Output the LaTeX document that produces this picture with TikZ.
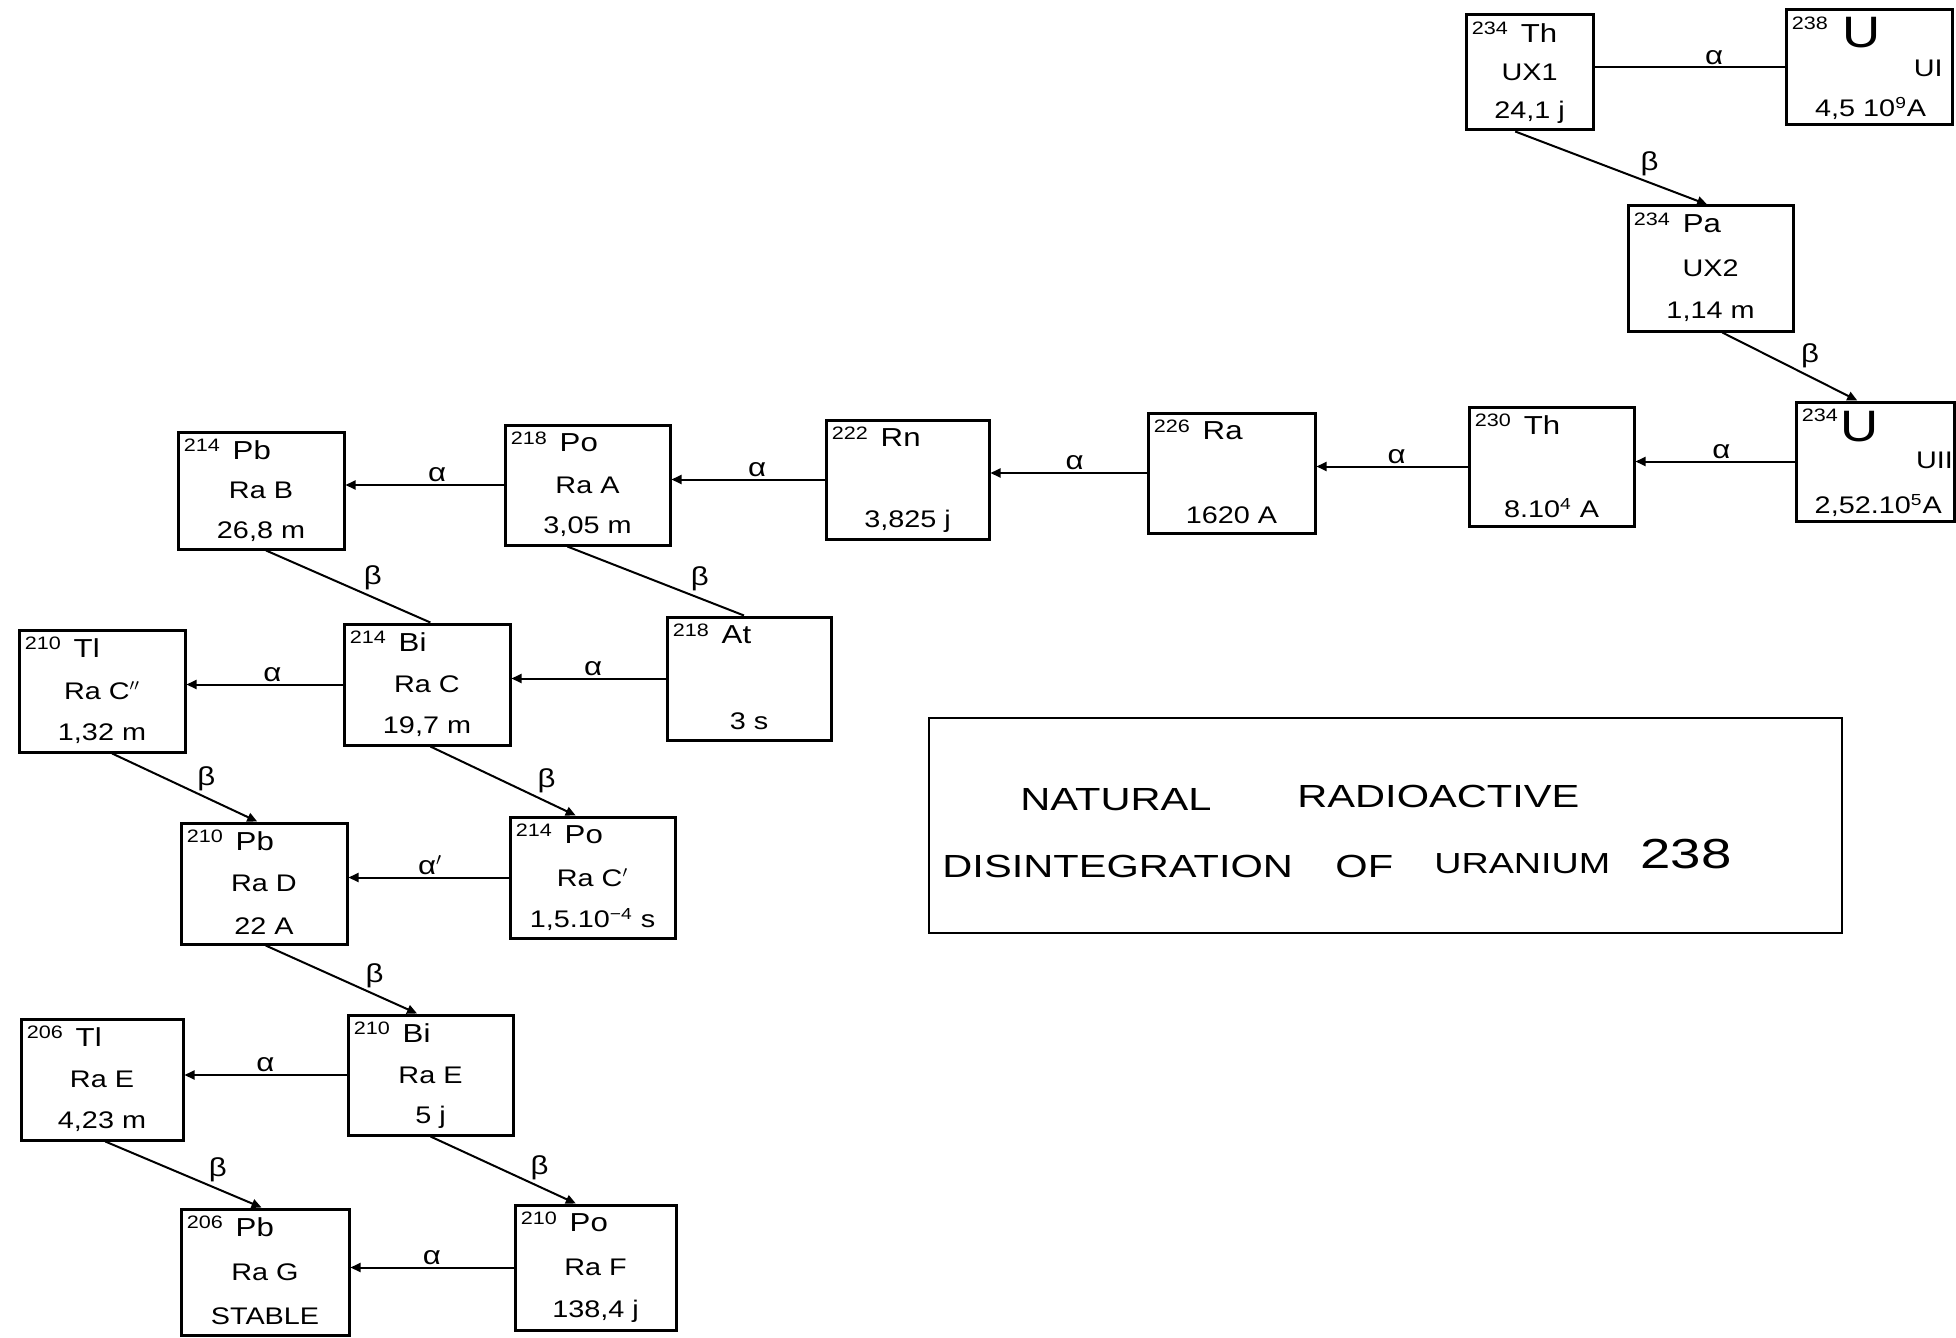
\documentclass[tikz,border=0pt]{standalone}
\usepackage{fontspec}
\setmainfont{Liberation Sans}[FakeStretch=1.2]
\newfontfamily\titlefont{Liberation Sans}[FakeStretch=1.3]
\usetikzlibrary{arrows.meta,calc,fit}
\tikzset{
  box/.style={draw, line width=1.5pt, inner sep=0pt},
  massn/.style={font=\fontsize{9}{10}\selectfont, inner sep=0pt},
  symb/.style={font=\fontsize{13}{14}\selectfont, inner sep=0pt},
  bigsymb/.style={font=\fontsize{22}{24}\selectfont, inner sep=0pt},
  nlab/.style={font=\fontsize{12}{13}\selectfont, inner sep=0pt},
  hlife/.style={font=\fontsize{12}{13}\selectfont, inner sep=0pt},
  tip/.style={-{Triangle[length=5pt,width=4.5pt]}},
  alink/.style={line width=1pt, tip},
  plainlink/.style={line width=1pt},
  blink/.style={line width=1pt},
  blinka/.style={blink, tip},
  dlab/.style={font=\fontsize{13}{14}\selectfont, inner sep=1pt},
  ttl/.style={font=\titlefont\fontsize{16}{18}\selectfont, inner sep=0pt, anchor=west},
}
\newcommand{\nucbox}[9]{%
  \node[box, fit={(#2,#3) (#4,#5)}] (#1) {};
  \node[massn, anchor=north west] (#1-m) at ($(#1.north west)+(7,8)$) {#6};
  \node[symb, anchor=north west] (#1-s) at ($(#1-m.north east)+(12,2)$) {#7};
  \node[nlab] (#1-n) at ($(#1.north)!0.5!(#1.south)$) {#8};
  \node[hlife] (#1-h) at ($(#1.north)!0.84!(#1.south)$) {#9};
}
\begin{document}
\begin{tikzpicture}[x=0.5pt,y=-0.5pt]
\useasboundingbox (0,0) rectangle (1956,1338);

% --- top chain ---
\node[box, fit={(1786,10) (1952,125)}] (ui) {};
\node[massn, anchor=north west] (ui-m) at ($(ui.north west)+(7,8)$) {238};
\node[bigsymb, anchor=north west] (ui-s) at ($(ui-m.north east)+(14,0)$) {U};
\node[nlab] (ui-n) at ($(ui.north west)!0.85!(ui.north east)+(0,60)$) {UI};
\node[hlife] (ui-h) at ($(ui.north west)!0.51!(ui.north east)+(0,100)$) {4,5 10\textsuperscript{9}A};

\nucbox{ux1}{1466}{15}{1593}{130}{234}{Th}{UX1}{24,1 j}
\nucbox{ux2}{1628}{206}{1793}{331}{234}{Pa}{UX2}{1,14 m}

\node[box, fit={(1796,402) (1954,521)}] (uii) {};
\node[massn, anchor=north west] (uii-m) at ($(uii.north west)+(7,8)$) {234};
\node[bigsymb, anchor=north west] (uii-s) at ($(uii-m.north east)+(2,2)$) {U};
\node[nlab] (uii-n) at ($(uii.north west)!0.87!(uii.north east)+(0,60)$) {UII};
\node[hlife] (uii-h) at ($(uii.north west)!0.52!(uii.north east)+(0,105)$) {2,52.10\textsuperscript{5}A};

\nucbox{th}{1469}{407}{1634}{526}{230}{Th}{}{8.10\textsuperscript{4} A}
\nucbox{ra}{1148}{413}{1315}{533}{226}{Ra}{}{1620 A}
\nucbox{rn}{826}{420}{989}{539}{222}{Rn}{}{3,825 j}
\nucbox{raa}{505}{425}{670}{545}{218}{Po}{Ra A}{3,05 m}
\nucbox{rab}{178}{432}{344}{549}{214}{Pb}{Ra B}{26,8 m}
\nucbox{at}{667}{617}{831}{740}{218}{At}{}{3 s}
\nucbox{rac}{344}{624}{510}{745}{214}{Bi}{Ra C}{19,7 m}
\nucbox{racpp}{19}{630}{185}{752}{210}{Tl}{Ra C$''$}{1,32 m}
\nucbox{racp}{510}{817}{675}{938}{214}{Po}{Ra C$'$}{1,5.10\textsuperscript{−4} s}
\nucbox{rad}{181}{823}{347}{944}{210}{Pb}{Ra D}{22 A}
\nucbox{rae}{348}{1015}{513}{1135}{210}{Bi}{Ra E}{5 j}
\nucbox{raepp}{21}{1019}{183}{1140}{206}{Tl}{Ra E}{4,23 m}
\nucbox{rag}{181}{1209}{349}{1335}{206}{Pb}{Ra G}{STABLE}
\nucbox{raf}{515}{1205}{676}{1330}{210}{Po}{Ra F}{138,4 j}

% --- alpha links ---
\draw[plainlink] (ui.west) -- (ui.west -| ux1.east) node[dlab, pos=0.37, above] (l1) {α};
\draw[alink] (uii.west) -- (uii.west -| th.east) node[dlab, pos=0.46, above] (l2) {α};
\draw[alink] (th.west) -- (th.west -| ra.east) node[dlab, pos=0.47, above] (l3) {α};
\draw[alink] (ra.west) -- (ra.west -| rn.east) node[dlab, pos=0.46, above] (l4) {α};
\draw[alink] (rn.west) -- (rn.west -| raa.east) node[dlab, pos=0.44, above] (l5) {α};
\draw[alink] (raa.west) -- (raa.west -| rab.east) node[dlab, pos=0.42, above] (l6) {α};
\draw[alink] (at.west) -- (at.west -| rac.east) node[dlab, pos=0.47, above] (l7) {α};
\draw[alink] (rac.west) -- (rac.west -| racpp.east) node[dlab, pos=0.45, above] (l8) {α};
\draw[alink] (racp.west) -- (racp.west -| rad.east) node[dlab, pos=0.49, above] (l9) {α$'$};
\draw[alink] (rae.west) -- (rae.west -| raepp.east) node[dlab, pos=0.5, above] (l10) {α};
\draw[alink] (raf.west) -- (raf.west -| rag.east) node[dlab, pos=0.5, above] (l11) {α};

% --- beta links ---
\draw[blinka] ($(ux1.south west)!0.39!(ux1.south east)$) -- ($(ux2.north west)!0.48!(ux2.north east)$) node[dlab, pos=0.7, above=2pt] (b1) {β};
\draw[blinka] ($(ux2.south west)!0.57!(ux2.south east)$) -- ($(uii.north west)!0.39!(uii.north east)$) node[dlab, pos=0.65, above=3pt] (b2) {β};
\draw[blink] ($(raa.south west)!0.38!(raa.south east)$) -- ($(at.north west)!0.47!(at.north east)$) node[dlab, pos=0.75, above=2pt] (b3) {β};
\draw[blink] ($(rab.south west)!0.53!(rab.south east)$) -- ($(rac.north west)!0.52!(rac.north east)$) node[dlab, pos=0.65, above=2pt] (b4) {β};
\draw[blinka] ($(rac.south west)!0.52!(rac.south east)$) -- ($(racp.north west)!0.4!(racp.north east)$) node[dlab, pos=0.8, above=3pt] (b5) {β};
\draw[blinka] ($(racpp.south west)!0.56!(racpp.south east)$) -- ($(rad.north west)!0.46!(rad.north east)$) node[dlab, pos=0.65, above=2pt] (b6) {β};
\draw[blinka] ($(rad.south west)!0.51!(rad.south east)$) -- ($(rae.north west)!0.42!(rae.north east)$) node[dlab, pos=0.72, above=2pt] (b7) {β};
\draw[blinka] ($(raepp.south west)!0.52!(raepp.south east)$) -- ($(rag.north west)!0.48!(rag.north east)$) node[dlab, pos=0.72, above=2pt] (b8) {β};
\draw[blinka] ($(rae.south west)!0.5!(rae.south east)$) -- ($(raf.north west)!0.38!(raf.north east)$) node[dlab, pos=0.75, above=2pt] (b9) {β};

% --- title ---
\node[draw, line width=1pt, inner sep=0pt, fit={(929,718) (1842,933)}] (title) {};
\node[ttl] (t1) at (1020,800) {NATURAL};
\node[ttl] (t2) at (1297,796) {RADIOACTIVE};
\node[ttl] (t3) at (942,866) {DISINTEGRATION};
\node[ttl] (t4) at (1335,866) {OF};
\node[ttl, font=\titlefont\fontsize{14.5}{17}\selectfont] (t5) at (1434,864) {URANIUM};
\node[ttl, font=\titlefont\fontsize{21}{23}\selectfont] (t6) at (1640,854) {238};
\end{tikzpicture}
\end{document}
